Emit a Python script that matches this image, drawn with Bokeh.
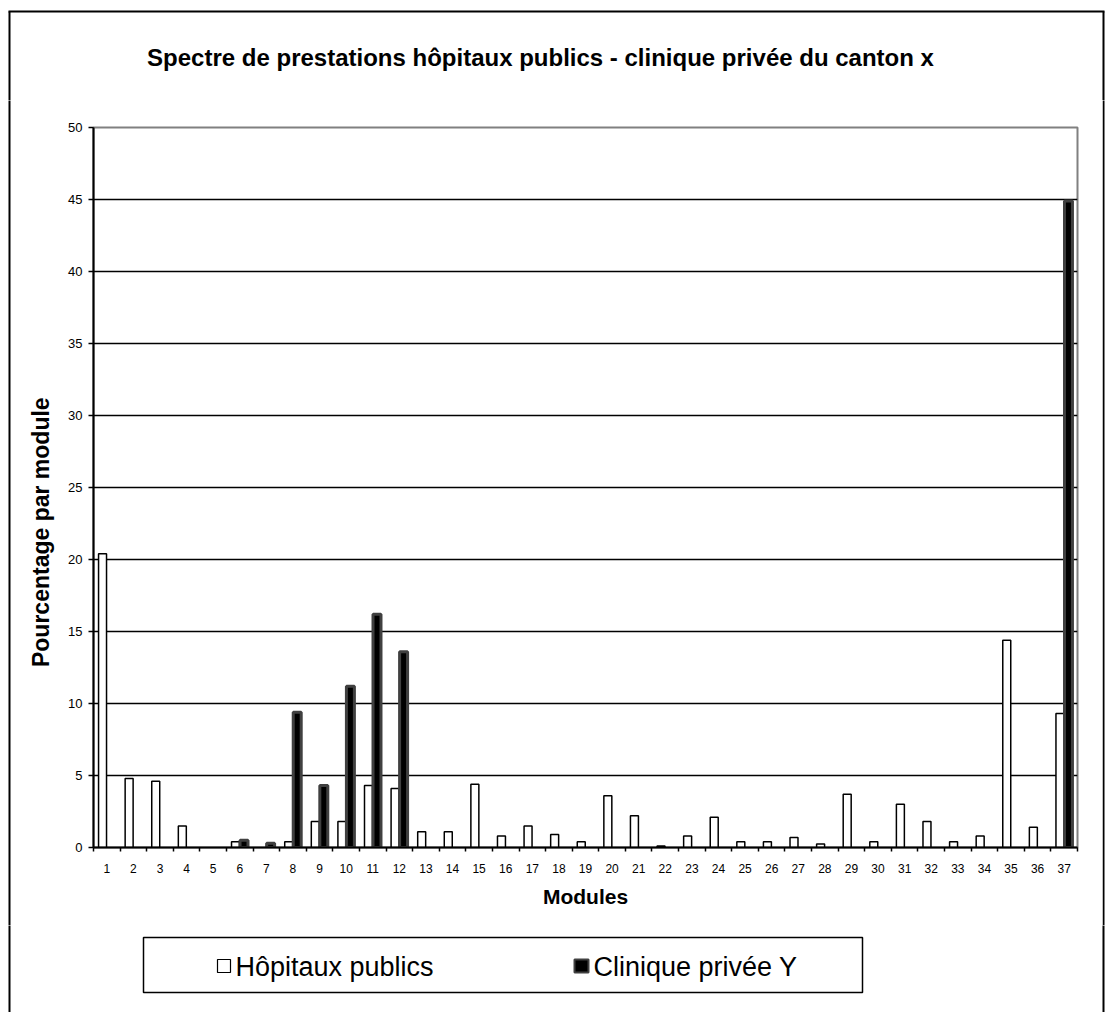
from bokeh.plotting import figure
from bokeh.models import ColumnDataSource, FixedTicker, Range1d
from bokeh.layouts import column, row
from bokeh.core.properties import value
from bokeh.embed import file_html
from bokeh.resources import INLINE

# ---------------- data ----------------
modules = list(range(1, 38))
public = [20.4, 4.8, 4.6, 1.5, 0, 0.4, 0, 0.4, 1.8, 1.8, 4.3, 4.1, 1.1, 1.1, 4.4, 0.8, 1.5, 0.9, 0.4,
          3.6, 2.2, 0.1, 0.8, 2.1, 0.4, 0.4, 0.7, 0.25, 3.7, 0.4, 3.0, 1.8, 0.4, 0.8, 14.4, 1.4, 9.3]
private = [0, 0, 0, 0, 0, 0.5, 0.3, 9.4, 4.3, 11.2, 16.2, 13.6, 0, 0, 0, 0, 0, 0, 0,
           0, 0, 0, 0, 0, 0, 0, 0, 0, 0, 0, 0, 0, 0, 0, 0, 0, 44.9]
y_ticks = [0, 5, 10, 15, 20, 25, 30, 35, 40, 45, 50]

title = "Spectre de prestations hôpitaux publics - clinique privée du canton x"
x_title = "Modules"
y_title = "Pourcentage par module"
legend_labels = ["Hôpitaux publics", "Clinique privée Y"]

# ---------------- styles ----------------
FONT = "Liberation Sans"
W = 1105
TOP_H, MID_H, BOT_H = 100, 825, 87
LW, RW = 11, 3
BORDER_X_L, BORDER_X_R, BORDER_Y_T = 9, 1103, 11
PUB_STYLE = dict(fill_color="white", line_color="black", line_width=1.5)
PRV_STYLE = dict(fill_color="black", line_color="#404040", line_width=3)


def deco_fig(w, h, x0, x1, y0, y1):
    f = figure(width=w, height=h, output_backend="svg", toolbar_location=None,
               x_range=Range1d(x0, x1), y_range=Range1d(y1, y0),
               x_axis_type=None, y_axis_type=None, min_border=0,
               min_border_left=0, min_border_right=0, min_border_top=0, min_border_bottom=0,
               background_fill_color="white", border_fill_color="white", frame_align=False)
    f.outline_line_color = None
    f.grid.visible = False
    return f


# ---------------- top: title + outer border ----------------
top = deco_fig(W, TOP_H, 0, W, 0, TOP_H)
top.segment(x0=[BORDER_X_L - 1, BORDER_X_L, BORDER_X_R], y0=[BORDER_Y_T, BORDER_Y_T, BORDER_Y_T],
            x1=[BORDER_X_R + 1, BORDER_X_L, BORDER_X_R], y1=[BORDER_Y_T, TOP_H + 5, TOP_H + 5],
            line_color="black", line_width=2)
top.text(x=[540], y=[57], text=[title], text_align="center", text_baseline="middle",
         text_font=value(FONT), text_font_style="bold", text_font_size="24px", text_color="black")

# ---------------- side strips ----------------
left_strip = deco_fig(LW, MID_H, 0, LW, 0, MID_H)
left_strip.segment(x0=[BORDER_X_L], y0=[-5], x1=[BORDER_X_L], y1=[MID_H + 5], line_color="black", line_width=2)
right_strip = deco_fig(RW, MID_H, W - RW, W, 0, MID_H)
right_strip.segment(x0=[BORDER_X_R], y0=[-5], x1=[BORDER_X_R], y1=[MID_H + 5], line_color="black", line_width=2)

# ---------------- main chart ----------------
MW = W - LW - RW
FL, FR, FT, FB = 93 - LW, 1077 - LW, 127 - TOP_H, 847 - TOP_H
p = figure(width=MW, height=MID_H, output_backend="svg", toolbar_location=None,
           x_range=Range1d(0.5, 37.5), y_range=Range1d(0, 50),
           min_border_left=FL, min_border_right=MW - FR, min_border_top=FT, min_border_bottom=MID_H - FB,
           background_fill_color="white", border_fill_color="white", frame_align=False)
p.outline_line_color = "#808080"
p.outline_line_width = 2

p.xaxis.ticker = FixedTicker(ticks=modules, minor_ticks=[m + 0.5 for m in [0] + modules])
p.xaxis.major_tick_out = 0
p.xaxis.major_tick_in = 0
p.xaxis.minor_tick_out = 4
p.xaxis.minor_tick_in = 0
p.xaxis.minor_tick_line_color = "black"
p.xaxis.minor_tick_line_width = 1.5
p.xaxis.axis_line_color = "black"
p.xaxis.axis_line_width = 2
p.xaxis.major_label_text_font = FONT
p.xaxis.major_label_text_font_size = "12px"
p.xaxis.major_label_text_color = "black"
p.xaxis.major_label_standoff = 12
p.xaxis.axis_label = x_title
p.xaxis.axis_label_text_font = FONT
p.xaxis.axis_label_text_font_style = "bold"
p.xaxis.axis_label_text_font_size = "21px"
p.xaxis.axis_label_text_color = "black"
p.xaxis.axis_label_standoff = 9

p.yaxis.ticker = FixedTicker(ticks=y_ticks)
p.yaxis.minor_tick_line_color = None
p.yaxis.major_tick_out = 5
p.yaxis.major_tick_in = 0
p.yaxis.major_tick_line_width = 1.5
p.yaxis.major_tick_line_color = "black"
p.yaxis.axis_line_color = "black"
p.yaxis.axis_line_width = 2
p.yaxis.major_label_text_font = FONT
p.yaxis.major_label_text_font_size = "13px"
p.yaxis.major_label_text_color = "black"
p.yaxis.major_label_standoff = 6
p.yaxis.axis_label = y_title + "\u00a0" * 14
p.yaxis.axis_label_text_font = FONT
p.yaxis.axis_label_text_font_style = "bold"
p.yaxis.axis_label_text_font_size = "23px"
p.yaxis.axis_label_text_color = "black"
p.yaxis.axis_label_standoff = 11

p.xgrid.grid_line_color = None
p.ygrid.ticker = FixedTicker(ticks=y_ticks[1:-1])
p.ygrid.grid_line_color = "black"
p.ygrid.grid_line_width = 1.5

pub_src = ColumnDataSource(dict(x=[m - 0.16 for m, v in zip(modules, public) if v > 0],
                                top=[v for v in public if v > 0]))
prv_src = ColumnDataSource(dict(x=[m + 0.16 for m, v in zip(modules, private) if v > 0],
                                top=[v for v in private if v > 0]))
p.vbar(x="x", top="top", width=0.30, bottom=0, source=pub_src, **PUB_STYLE)
p.vbar(x="x", top="top", width=0.30, bottom=0, source=prv_src, **PRV_STYLE)

# ---------------- bottom: legend + outer border ----------------
Y0 = TOP_H + MID_H
bot = deco_fig(W, BOT_H, 0, W, Y0, Y0 + BOT_H)
bot.segment(x0=[BORDER_X_L, BORDER_X_R], y0=[Y0 - 5, Y0 - 5], x1=[BORDER_X_L, BORDER_X_R], y1=[Y0 + BOT_H, Y0 + BOT_H],
            line_color="black", line_width=2)
bot.quad(left=[143], right=[862], top=[937], bottom=[992], fill_color="white", line_color="black", line_width=1.5)
bot.quad(left=[217], right=[230], top=[959], bottom=[972], fill_color="white", line_color="black", line_width=1.2)
bot.quad(left=[574], right=[588], top=[959], bottom=[972], fill_color="black", line_color="#404040", line_width=2)
bot.text(x=[235, 593], y=[966, 966], text=legend_labels, text_align="left", text_baseline="middle",
         text_font=value(FONT), text_font_size="27px", text_color="black")

layout = column(top, row(left_strip, p, right_strip, spacing=0), bot, spacing=0)
open("out.html", "w").write(file_html(layout, INLINE))
